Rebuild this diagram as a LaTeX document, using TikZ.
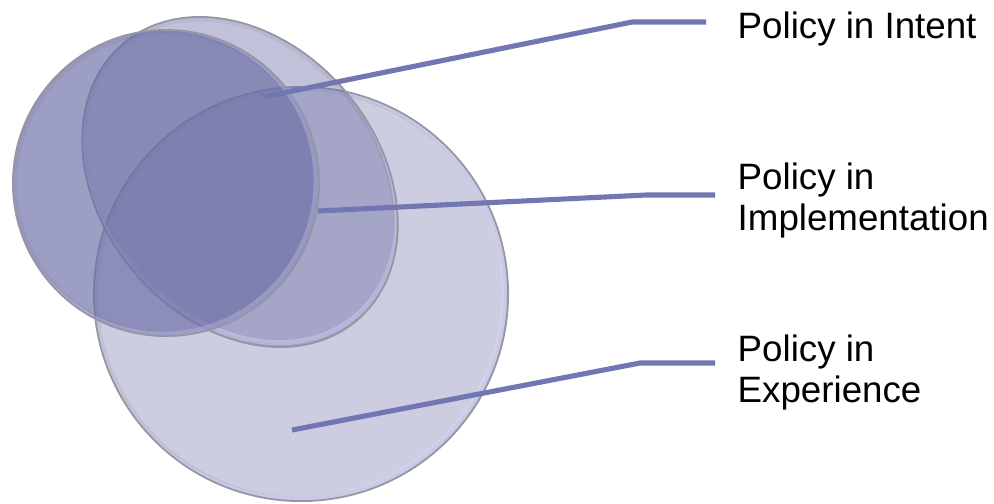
\documentclass[tikz,border=0pt]{standalone}
\usepackage{fontspec}
\setmainfont{Liberation Sans}
\definecolor{basecol}{RGB}{108,110,165}
\definecolor{edgecol}{RGB}{150,150,162}
\definecolor{rimcol}{RGB}{90,92,140}
\definecolor{glowcol}{RGB}{215,218,255}
\definecolor{linecol}{RGB}{114,118,178}
\tikzset{
  blob/.style={fill=basecol},
  outline/.style={draw=edgecol, line width=0.5pt},
  rim/.style={draw=rimcol, line width=0.09cm, draw opacity=0.10},
  glow/.style={draw=glowcol, line width=0.05cm, draw opacity=0.4},
  connector/.style={draw=linecol, line width=1.45pt, line join=round},
  lbl/.style={anchor=north west, inner sep=0pt, align=left,
    font=\fontsize{10.44pt}{11.66pt}\selectfont}
}
\begin{document}
\begin{tikzpicture}[x=0.01cm, y=-0.01cm]
\useasboundingbox (0,0) rectangle (994,503);
% experience (large)
\path[blob, fill opacity=0.345] (301,294) circle [radius=2.07cm];
\begin{scope}
  \clip (301,294) circle [radius=2.07cm];
  \path[rim] (301,294) circle [radius=2.07cm];
  \path[glow] (297,292) circle [radius=2.07cm];
\end{scope}
\path[outline] (301,294) circle [radius=2.07cm];
% implementation (tilted ellipse)
\path[blob, fill opacity=0.42, rotate around={-50:(240,182)}]
  (240,182) ellipse [x radius=1.81cm, y radius=1.39cm];
\begin{scope}
  \clip[rotate around={-50:(240,182)}] (240,182) ellipse [x radius=1.81cm, y radius=1.39cm];
  \path[rim, rotate around={-50:(240,182)}] (240,182) ellipse [x radius=1.81cm, y radius=1.39cm];
  \path[glow, rotate around={-50:(240,182)}] (236,180) ellipse [x radius=1.81cm, y radius=1.39cm];
\end{scope}
\path[outline, rotate around={-50:(240,182)}]
  (240,182) ellipse [x radius=1.81cm, y radius=1.39cm];
% intent (left circle)
\path[blob, fill opacity=0.67] (166,183) circle [radius=1.53cm];
\begin{scope}
  \clip (166,183) circle [radius=1.53cm];
  \path[rim] (166,183) circle [radius=1.53cm];
  \path[glow, draw opacity=0.3] (163,181) circle [radius=1.53cm];
\end{scope}
\path[outline] (166,183) circle [radius=1.53cm];

% labels
\node[lbl] (l1) at (737,11) {Policy in Intent};
\node[lbl] (l2) at (737,162) {Policy in\\Implementation};
\node[lbl] (l3) at (737,334) {Policy in\\Experience};

% connector points
\coordinate (s1) at (263,97);  \coordinate (k1) at (632,22);  \coordinate (e1) at (706,22);
\coordinate (s2) at (318,211); \coordinate (k2) at (646,195); \coordinate (e2) at (715,195);
\coordinate (s3) at (292,430); \coordinate (k3) at (640,363); \coordinate (e3) at (715,363);

\draw[connector] (s1) -- (k1) -- (e1);
\draw[connector] (s2) -- (k2) -- (e2);
\draw[connector] (s3) -- (k3) -- (e3);
\end{tikzpicture}
\end{document}
